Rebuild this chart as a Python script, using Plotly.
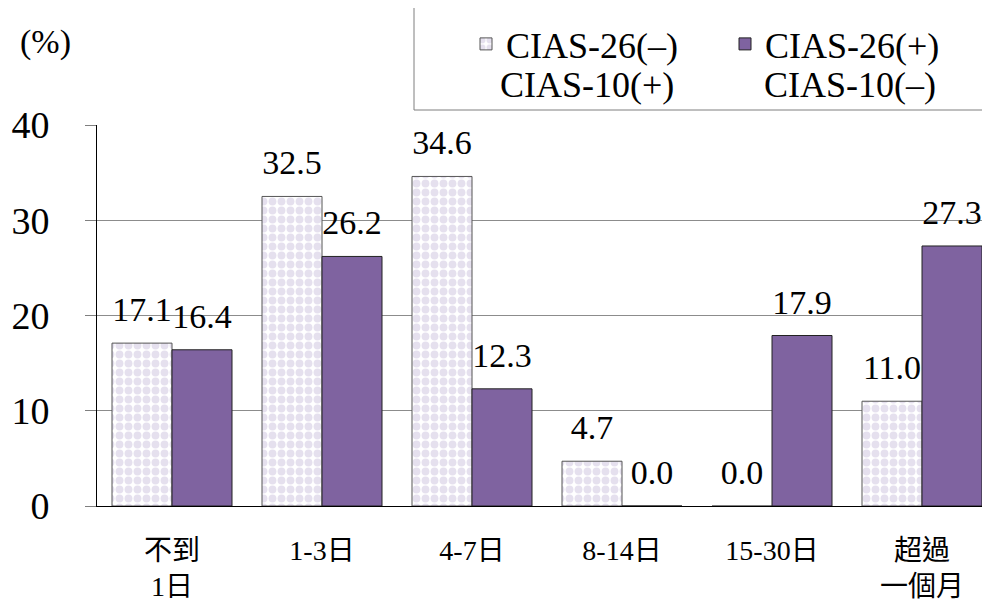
import plotly.graph_objects as go

# categories (x axis) and series values (%)
categories = ["不到<br>1日", "1-3日", "4-7日", "8-14日", "15-30日", "超過<br>一個月"]
series_first = ["CIAS-26(–)", "CIAS-26(+)"]
series_second = ["CIAS-10(+)", "CIAS-10(–)"]
cias26_neg = [17.1, 32.5, 34.6, 4.7, 0.0, 11.0]
cias26_pos = [16.4, 26.2, 12.3, 0.0, 17.9, 27.3]
y_ticks = [0, 10, 20, 30, 40]

SERIF = '"Liberation Serif", "Times New Roman", "Noto Sans CJK TC", serif'
CHECK = "#cbc1de"
PURPLE = "#7f63a0"

# page has an 8px body margin, so the figure is a bit smaller than the window
OFF = 8
W, H = 990 - OFF, 605 - OFF
L, R, T, B = 97 - OFF, 0, 125 - OFF, 605 - 506
pw, ph = W - L - R, H - T - B


def px_x(x):
    return (x - OFF - L) / pw


def px_y(y):
    return (H - B - (y - OFF)) / ph


fig = go.Figure()

fig.add_trace(go.Bar(
    x=categories, y=cias26_neg, name=series_first[0], offsetgroup="neg",
    marker=dict(color="white",
                pattern=dict(shape=".", fgcolor=CHECK, bgcolor="white",
                             size=9, solidity=0.6, fillmode="overlay"),
                line=dict(color="#555555", width=1)),
))
fig.add_trace(go.Bar(
    x=categories, y=cias26_pos, name=series_first[1], offsetgroup="pos",
    marker=dict(color=PURPLE, line=dict(color="#222222", width=1)),
))

# value labels, grouped the same way as the bars (invisible markers give the gap)
for vals, grp in [(cias26_neg, "neg"), (cias26_pos, "pos")]:
    fig.add_trace(go.Scatter(
        x=categories, y=vals, mode="markers+text", offsetgroup=grp,
        text=[f"{v:.1f}" for v in vals], textposition="top center",
        marker=dict(size=20, color="rgba(0,0,0,0)"),
        cliponaxis=False, showlegend=False, hoverinfo="skip",
        textfont=dict(family=SERIF, size=34, color="black"),
    ))

# legend frame (right side runs off the page in the original)
fig.add_shape(type="rect", xref="paper", yref="paper",
              x0=px_x(414), x1=px_x(1000), y0=px_y(110), y1=px_y(1),
              line=dict(color="#7f7f7f", width=1), fillcolor="white", layer="below")

# second line of each legend entry
for name, xc in zip(series_second, [501, 765]):
    fig.add_annotation(text=name, xref="paper", yref="paper",
                       x=px_x(xc - 3), y=px_y(85), showarrow=False,
                       xanchor="left", yanchor="middle",
                       font=dict(family=SERIF, size=36, color="black"))

fig.add_annotation(text="(%)", xref="paper", yref="paper",
                   x=px_x(45), y=px_y(42), showarrow=False,
                   xanchor="center", yanchor="middle",
                   font=dict(family=SERIF, size=34, color="black"))

fig.update_layout(
    width=W, height=H,
    margin=dict(l=L, r=R, t=T, b=B, autoexpand=False),
    paper_bgcolor="white", plot_bgcolor="white",
    barmode="group", bargap=0.2, bargroupgap=0,
    scattermode="group", scattergap=0.2,
    font=dict(family=SERIF, color="black"),
    legend=dict(orientation="h", x=px_x(466), y=px_y(14),
                xanchor="left", yanchor="top", valign="middle",
                bgcolor="rgba(0,0,0,0)", borderwidth=0,
                entrywidth=214, entrywidthmode="pixels",
                font=dict(family=SERIF, size=36, color="black")),
    xaxis=dict(range=[-0.5, 5.5 - 7 / 150], showgrid=False,
               showline=True, linecolor="black", linewidth=1,
               ticks="", ticklabelstandoff=19,
               tickfont=dict(family=SERIF, size=28, color="black")),
    yaxis=dict(range=[0, 40], tickvals=y_ticks,
               showgrid=True, gridcolor="#8c8c8c", gridwidth=1,
               showline=True, linecolor="black", linewidth=1,
               ticks="outside", ticklen=11, tickcolor="#7f7f7f",
               ticklabelstandoff=28, zeroline=False,
               tickfont=dict(family=SERIF, size=38, color="black")),
)

fig.write_html("out.html")
